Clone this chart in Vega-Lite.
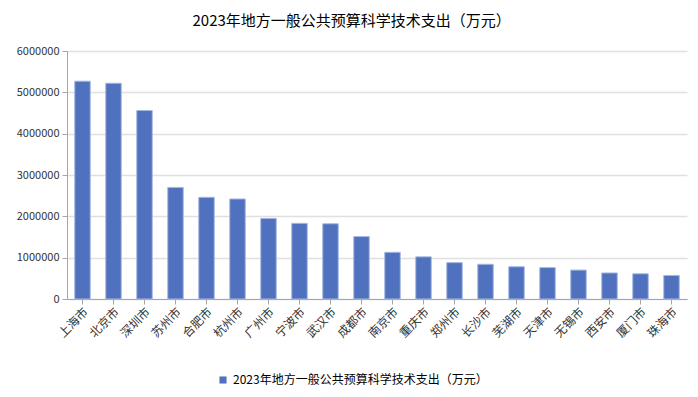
{
  "$schema": "https://vega.github.io/schema/vega-lite/v6.json",
  "width": 620,
  "height": 248,
  "autosize": {"type": "none"},
  "padding": {"left": 67, "top": 51, "right": 11, "bottom": 98},
  "background": "white",
  "title": {
    "text": "2023年地方一般公共预算科学技术支出（万元）",
    "font": "Noto Sans CJK SC",
    "fontSize": 15,
    "fontWeight": "normal",
    "color": "#000000",
    "anchor": "middle",
    "frame": "bounds",
    "offset": 16
  },
  "data": {
    "values": [
      {"city": "上海市", "value": 5270000},
      {"city": "北京市", "value": 5220000},
      {"city": "深圳市", "value": 4560000},
      {"city": "苏州市", "value": 2700000},
      {"city": "合肥市", "value": 2460000},
      {"city": "杭州市", "value": 2420000},
      {"city": "广州市", "value": 1950000},
      {"city": "宁波市", "value": 1830000},
      {"city": "武汉市", "value": 1820000},
      {"city": "成都市", "value": 1510000},
      {"city": "南京市", "value": 1130000},
      {"city": "重庆市", "value": 1020000},
      {"city": "郑州市", "value": 880000},
      {"city": "长沙市", "value": 840000},
      {"city": "芜湖市", "value": 780000},
      {"city": "天津市", "value": 760000},
      {"city": "无锡市", "value": 700000},
      {"city": "西安市", "value": 630000},
      {"city": "厦门市", "value": 610000},
      {"city": "珠海市", "value": 570000}
    ]
  },
  "mark": {"type": "bar", "stroke": "#A6B8E2", "strokeWidth": 1},
  "encoding": {
    "x": {
      "field": "city",
      "type": "nominal",
      "sort": null,
      "scale": {"paddingInner": 0.5, "paddingOuter": 0.25},
      "axis": {
        "title": null,
        "labelAngle": -45,
        "labelFont": "Noto Sans CJK SC",
        "labelFontSize": 12,
        "labelColor": "#333333",
        "domainColor": "#A6A6A6",
        "tickColor": "#A6A6A6",
        "tickSize": 5,
        "labelPadding": 2,
        "grid": false
      }
    },
    "y": {
      "field": "value",
      "type": "quantitative",
      "scale": {"domain": [0, 6000000], "nice": false},
      "axis": {
        "title": null,
        "values": [0, 1000000, 2000000, 3000000, 4000000, 5000000, 6000000],
        "format": "d",
        "labelFont": "Noto Sans CJK SC",
        "labelFontSize": 11,
        "labelColor": "#333333",
        "domainColor": "#A6A6A6",
        "tickColor": "#A6A6A6",
        "tickSize": 5,
        "labelPadding": 3,
        "gridColor": "#E0E0E0",
        "gridWidth": 1.5
      }
    },
    "color": {
      "datum": "2023年地方一般公共预算科学技术支出（万元）",
      "type": "nominal",
      "scale": {"range": ["#4F71BE"]},
      "legend": {
        "title": null,
        "orient": "none",
        "legendX": 150,
        "legendY": 323,
        "symbolType": "square",
        "symbolSize": 50,
        "symbolStrokeWidth": 0,
        "labelFont": "Noto Sans CJK SC",
        "labelFontSize": 12,
        "labelColor": "#000000",
        "labelLimit": 0
      }
    }
  },
  "config": {
    "view": {"stroke": null}
  }
}
